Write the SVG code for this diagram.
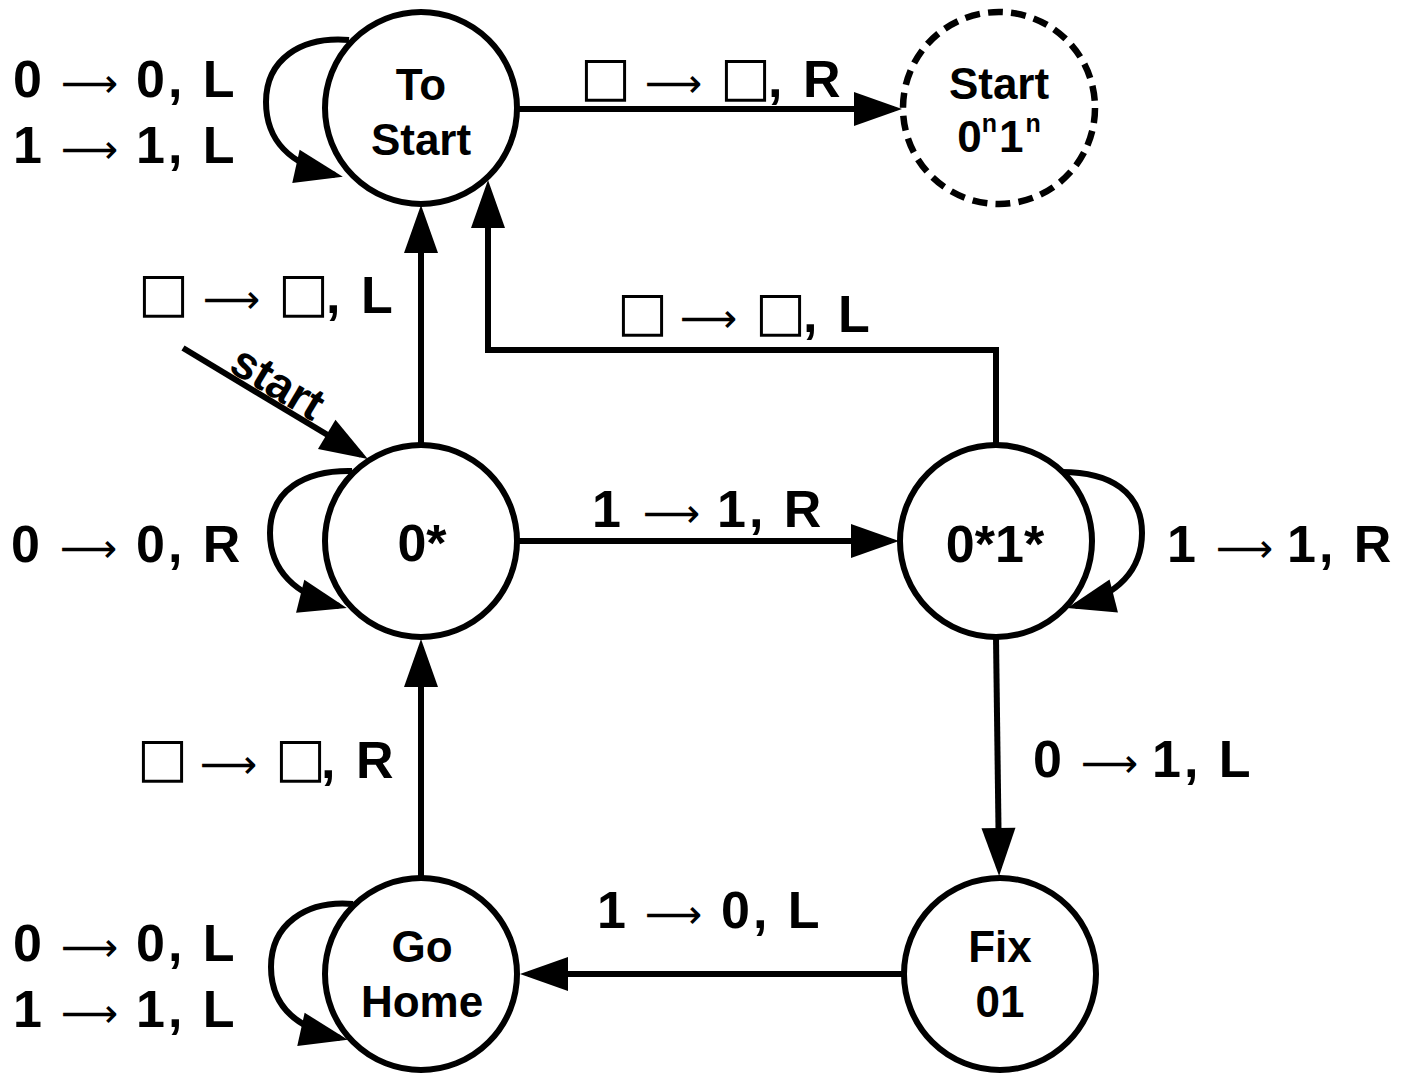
<svg xmlns="http://www.w3.org/2000/svg" width="1417" height="1074" viewBox="0 0 1417 1074">
<style>
.node{fill:#fff;stroke:#000;stroke-width:6}
.dash{fill:#fff;stroke:#000;stroke-width:6.5;stroke-dasharray:15 8.19}
.edge{fill:none;stroke:#000;stroke-width:6;marker-end:url(#ah)}
.nt{font-family:"Liberation Sans",Arial,sans-serif;font-weight:bold;font-size:44px;text-anchor:middle;fill:#000}
.big{font-size:52px}
.lbl{font-family:"Liberation Sans",Arial,sans-serif;font-weight:bold;font-size:52px;fill:#000}
.ar{font-family:"DejaVu Sans",sans-serif;font-weight:normal;font-size:40px}
.bx{font-family:"DejaVu Sans",sans-serif;font-weight:normal;font-size:54px}
.rs{letter-spacing:3px}
.st{font-family:"Liberation Sans",Arial,sans-serif;font-weight:bold;font-size:46px;text-anchor:middle}
</style>
<defs>
<marker id="ah" markerUnits="userSpaceOnUse" markerWidth="48" markerHeight="34" refX="40" refY="17" orient="auto" overflow="visible">
<path d="M0,0 L48,17 L0,34 z" fill="#000"/>
</marker>
</defs>
<rect width="1417" height="1074" fill="#fff"/>

<g id="connectors">
<path class="edge" d="M518 109 L894 109"/>
<path class="edge" d="M519 541 L891 541"/>
<path class="edge" d="M421 444 L421 213"/>
<path class="edge" d="M996 444 L996 350 L488 350 L488 188"/>
<path class="edge" d="M996 637 L999 868"/>
<path class="edge" d="M902 974 L528 974"/>
<path class="edge" d="M421 877 L421 647"/>
<path class="edge" d="M183 348 L361 455"/>
<path class="edge" d="M349 40 C300 36 266 60 266 102 C266 140 290 165 335 175"/>
<path class="edge" d="M352 471 C305 470 270 490 270 533 C270 570 295 595 339 606"/>
<path class="edge" d="M353 904 C305 900 271 925 271 967 C271 1005 295 1028 340 1038"/>
<path class="edge" d="M1062 472 C1110 472 1142 492 1142 533 C1142 570 1118 595 1075 606"/>
</g>

<g id="labels">
<text class="lbl"><tspan x="13" y="97">0 </tspan><tspan class="ar" x="61" y="97">⟶ </tspan><tspan class="rs" x="136" y="97">0, L</tspan></text>
<text class="lbl"><tspan x="13" y="163">1 </tspan><tspan class="ar" x="61" y="163">⟶ </tspan><tspan class="rs" x="136" y="163">1, L</tspan></text>
<text class="lbl"><tspan x="13" y="961">0 </tspan><tspan class="ar" x="61" y="961">⟶ </tspan><tspan class="rs" x="136" y="961">0, L</tspan></text>
<text class="lbl"><tspan x="13" y="1027">1 </tspan><tspan class="ar" x="61" y="1027">⟶ </tspan><tspan class="rs" x="136" y="1027">1, L</tspan></text>
<text class="lbl"><tspan x="11" y="562">0 </tspan><tspan class="ar" x="60" y="562">⟶ </tspan><tspan class="rs" x="136" y="562">0, R</tspan></text>
<text class="lbl"><tspan x="592" y="527">1 </tspan><tspan class="ar" x="643" y="527">⟶ </tspan><tspan class="rs" x="717" y="527">1, R</tspan></text>
<text class="lbl"><tspan x="1167" y="562">1 </tspan><tspan class="ar" x="1216" y="562">⟶ </tspan><tspan class="rs" x="1287" y="562">1, R</tspan></text>
<text class="lbl"><tspan x="1033" y="777">0 </tspan><tspan class="ar" x="1081" y="777">⟶ </tspan><tspan class="rs" x="1152" y="777">1, L</tspan></text>
<text class="lbl"><tspan x="597" y="928">1 </tspan><tspan class="ar" x="645" y="928">⟶ </tspan><tspan class="rs" x="721" y="928">0, L</tspan></text>
<text class="lbl"><tspan class="bx" x="580" y="95">□ </tspan><tspan class="ar" x="645" y="97">⟶ </tspan><tspan class="bx" x="720" y="95">□</tspan><tspan class="rs" x="768" y="97">, R</tspan></text>
<text class="lbl"><tspan class="bx" x="138" y="311">□ </tspan><tspan class="ar" x="203" y="313">⟶ </tspan><tspan class="bx" x="278" y="311">□</tspan><tspan class="rs" x="326" y="313">, L</tspan></text>
<text class="lbl"><tspan class="bx" x="617" y="330">□ </tspan><tspan class="ar" x="680" y="332">⟶ </tspan><tspan class="bx" x="755" y="330">□</tspan><tspan class="rs" x="803" y="332">, L</tspan></text>
<text class="lbl"><tspan class="bx" x="137" y="776">□ </tspan><tspan class="ar" x="200" y="778">⟶ </tspan><tspan class="bx" x="275" y="776">□</tspan><tspan class="rs" x="321" y="778">, R</tspan></text>
<text class="st" transform="translate(270 396) rotate(31)">start</text>
</g>

<g id="n-tostart">
<circle class="node" cx="421" cy="108" r="96"/>
<text class="nt" x="421" y="100">To</text>
<text class="nt" x="421" y="155">Start</text>
</g>
<g id="n-start0n1n">
<circle class="dash" cx="999" cy="108" r="96"/>
<text class="nt" x="999" y="99">Start</text>
<text class="nt" x="999" y="152">0<tspan font-size="25" dy="-20">n</tspan><tspan dy="20" dx="2">1</tspan><tspan font-size="25" dy="-20" dx="2">n</tspan></text>
</g>
<g id="n-zero">
<circle class="node" cx="421" cy="541" r="96"/>
<text class="nt big" x="422" y="561">0*</text>
</g>
<g id="n-zeroone">
<circle class="node" cx="996" cy="541" r="96"/>
<text class="nt big" x="995" y="562">0*1*</text>
</g>
<g id="n-gohome">
<circle class="node" cx="421" cy="974" r="96"/>
<text class="nt" x="422" y="962">Go</text>
<text class="nt" x="422" y="1017">Home</text>
</g>
<g id="n-fix01">
<circle class="node" cx="1000" cy="974" r="96"/>
<text class="nt" x="1000" y="962">Fix</text>
<text class="nt" x="1000" y="1017">01</text>
</g>
</svg>
